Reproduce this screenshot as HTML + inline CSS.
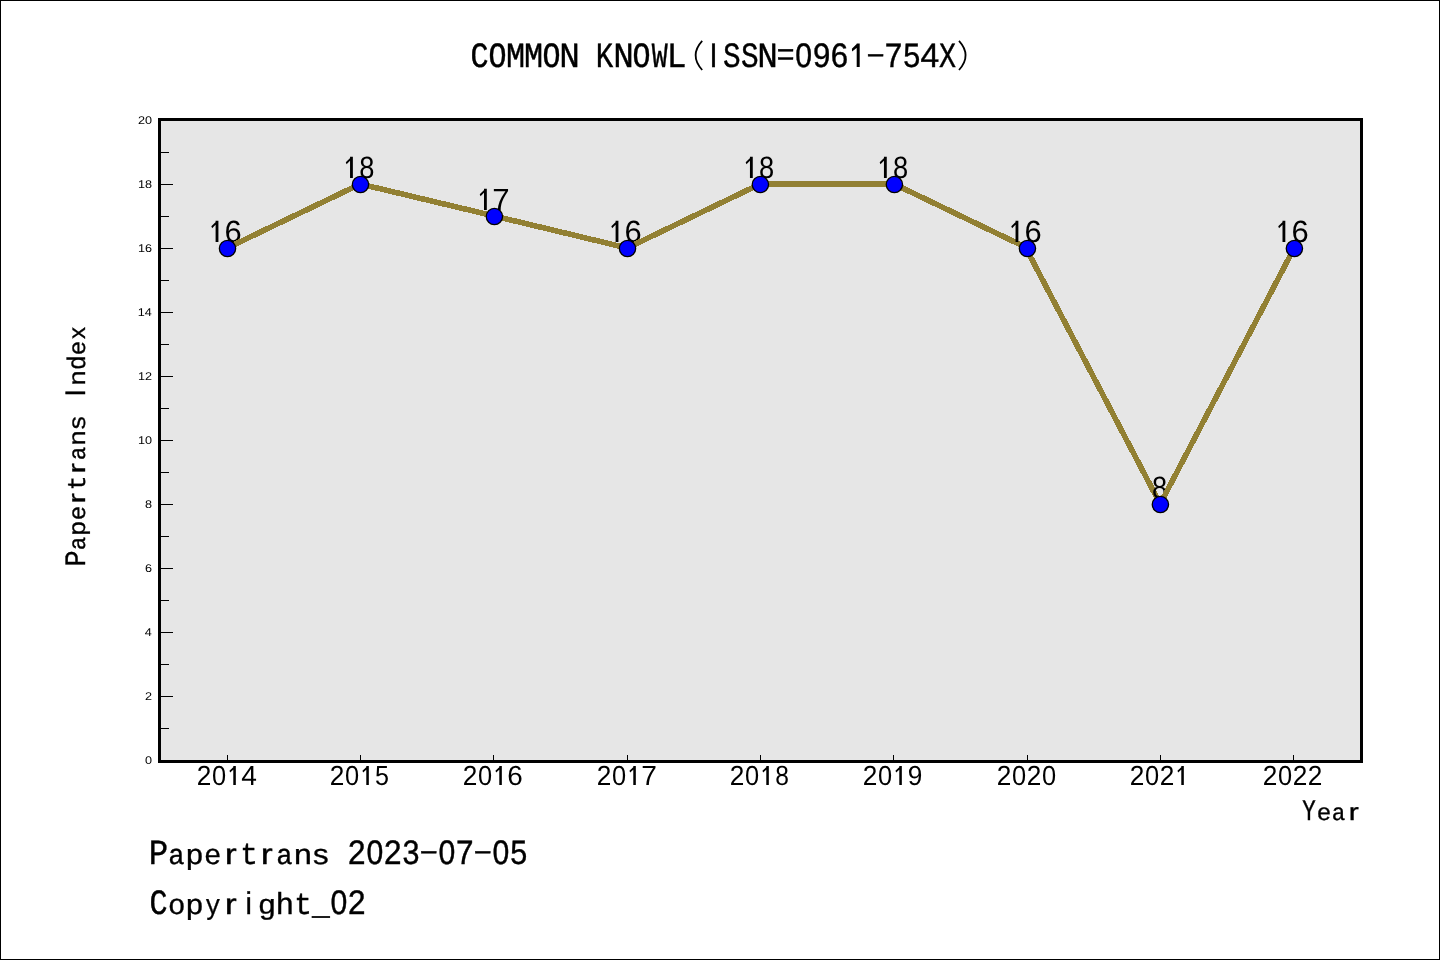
<!DOCTYPE html>
<html><head><meta charset="utf-8"><title>COMMON KNOWL</title>
<style>html,body{margin:0;padding:0;background:#fff;}body{width:1440px;height:960px;overflow:hidden;font-family:"Liberation Sans",sans-serif;}svg{display:block;will-change:transform;text-rendering:geometricPrecision;}</style>
</head><body>
<svg width="1440" height="960" viewBox="0 0 1440 960" font-family="'Liberation Sans', sans-serif" fill="#000">
<rect x="0.5" y="0.5" width="1439" height="959" fill="#fff" stroke="#000" stroke-width="1" shape-rendering="crispEdges"/>
<rect x="159.5" y="119.5" width="1202" height="642" fill="#e6e6e6" stroke="#000" stroke-width="3" shape-rendering="crispEdges"/>
<path d="M161 728.5H169M161 696.5H173M161 664.5H169M161 632.5H173M161 600.5H169M161 568.5H173M161 536.5H169M161 504.5H173M161 472.5H169M161 440.5H173M161 408.5H169M161 376.5H173M161 344.5H169M161 312.5H173M161 280.5H169M161 248.5H173M161 216.5H169M161 184.5H173M161 152.5H169M227.5 755V760M360.5 755V760M493.5 755V760M627.5 755V760M760.5 755V760M893.5 755V760M1027.5 755V760M1160.5 755V760M1293.5 755V760" stroke="#000" stroke-width="1" fill="none" shape-rendering="crispEdges"/>
<text transform="translate(145.45,764) scale(1.13,1)" x="-0.44" font-size="11.2">0</text>
<text transform="translate(145.73,700) scale(1.13,1)" x="-0.56" font-size="11.2">2</text>
<text transform="translate(145.12,636) scale(1.13,1)" x="-0.26" font-size="11.2">4</text>
<text transform="translate(145.66,572) scale(1.13,1)" x="-0.57" font-size="11.2">6</text>
<text transform="translate(145.56,508) scale(1.13,1)" x="-0.49" font-size="11.2">8</text>
<text transform="translate(138.88,444) scale(1.13,1)" x="-0.85" font-size="11.2">10</text>
<text transform="translate(139.02,380) scale(1.13,1)" x="-0.85" font-size="11.2">12</text>
<text transform="translate(138.76,316) scale(1.13,1)" x="-0.85" font-size="11.2">14</text>
<text transform="translate(138.94,252) scale(1.13,1)" x="-0.85" font-size="11.2">16</text>
<text transform="translate(138.94,188) scale(1.13,1)" x="-0.85" font-size="11.2">18</text>
<text transform="translate(138.55,124) scale(1.13,1)" x="-0.56" font-size="11.2">20</text>
<g aria-label="2014"><desc>2014</desc><text transform="translate(204,785) scale(0.95,1)" x="-7.68" font-size="27.62">2</text><text transform="translate(219,785) scale(0.92,1)" x="-7.68" font-size="27.62">0</text><path d="M233.29 766h2.54v19h-2.54zM234.54 766L233.49 769.39L230.16 772.6L229.45 770.82z"/><text transform="translate(249,785) scale(1.02,1)" x="-7.59" font-size="27.62">4</text></g>
<g aria-label="2015"><desc>2015</desc><text transform="translate(337,785) scale(0.95,1)" x="-7.68" font-size="27.62">2</text><text transform="translate(352,785) scale(0.92,1)" x="-7.68" font-size="27.62">0</text><path d="M366.29 766h2.54v19h-2.54zM367.54 766L366.49 769.39L363.16 772.6L362.45 770.82z"/><text transform="translate(382,785) scale(0.91,1)" x="-7.65" font-size="27.62">5</text></g>
<g aria-label="2016"><desc>2016</desc><text transform="translate(470,785) scale(0.95,1)" x="-7.68" font-size="27.62">2</text><text transform="translate(485,785) scale(0.92,1)" x="-7.68" font-size="27.62">0</text><path d="M499.29 766h2.54v19h-2.54zM500.54 766L499.49 769.39L496.16 772.6L495.45 770.82z"/><text transform="translate(515,785) scale(1.01,1)" x="-7.77" font-size="27.62">6</text></g>
<g aria-label="2017"><desc>2017</desc><text transform="translate(604,785) scale(0.95,1)" x="-7.68" font-size="27.62">2</text><text transform="translate(619,785) scale(0.92,1)" x="-7.68" font-size="27.62">0</text><path d="M633.29 766h2.54v19h-2.54zM634.54 766L633.49 769.39L630.16 772.6L629.45 770.82z"/><text transform="translate(649,785) scale(1.02,1)" x="-7.69" font-size="27.62">7</text></g>
<g aria-label="2018"><desc>2018</desc><text transform="translate(737,785) scale(0.95,1)" x="-7.68" font-size="27.62">2</text><text transform="translate(752,785) scale(0.92,1)" x="-7.68" font-size="27.62">0</text><path d="M766.29 766h2.54v19h-2.54zM767.54 766L766.49 769.39L763.16 772.6L762.45 770.82z"/><text transform="translate(782,785) scale(0.89,1)" x="-7.68" font-size="27.62">8</text></g>
<g aria-label="2019"><desc>2019</desc><text transform="translate(870,785) scale(0.95,1)" x="-7.68" font-size="27.62">2</text><text transform="translate(885,785) scale(0.92,1)" x="-7.68" font-size="27.62">0</text><path d="M899.29 766h2.54v19h-2.54zM900.54 766L899.49 769.39L896.16 772.6L895.45 770.82z"/><text transform="translate(915,785) scale(0.95,1)" x="-7.67" font-size="27.62">9</text></g>
<g aria-label="2020"><desc>2020</desc><text transform="translate(1004,785) scale(0.95,1)" x="-7.68" font-size="27.62">2</text><text transform="translate(1019,785) scale(0.92,1)" x="-7.68" font-size="27.62">0</text><text transform="translate(1034,785) scale(0.95,1)" x="-7.68" font-size="27.62">2</text><text transform="translate(1049,785) scale(0.92,1)" x="-7.68" font-size="27.62">0</text></g>
<g aria-label="2021"><desc>2021</desc><text transform="translate(1137,785) scale(0.95,1)" x="-7.68" font-size="27.62">2</text><text transform="translate(1152,785) scale(0.92,1)" x="-7.68" font-size="27.62">0</text><text transform="translate(1167,785) scale(0.95,1)" x="-7.68" font-size="27.62">2</text><path d="M1181.29 766h2.54v19h-2.54zM1182.54 766L1181.49 769.39L1178.16 772.6L1177.45 770.82z"/></g>
<g aria-label="2022"><desc>2022</desc><text transform="translate(1270,785) scale(0.95,1)" x="-7.68" font-size="27.62">2</text><text transform="translate(1285,785) scale(0.92,1)" x="-7.68" font-size="27.62">0</text><text transform="translate(1300,785) scale(0.95,1)" x="-7.68" font-size="27.62">2</text><text transform="translate(1315,785) scale(0.95,1)" x="-7.68" font-size="27.62">2</text></g>
<g aria-label="16"><desc>16</desc><path d="M215.6 220.8h2.82v21.1h-2.82zM216.99 220.8L215.8 224.56L212.13 228.13L211.34 226.15z"/><text transform="translate(233.2,241.9) scale(1.01,1)" x="-8.63" font-size="30.67">6</text></g>
<line x1="227.3" y1="248" x2="360.3" y2="184" stroke="#928033" stroke-width="5.6" stroke-linecap="butt" shape-rendering="crispEdges"/>
<g aria-label="18"><desc>18</desc><path d="M350.05 156.8h2.82v21.1h-2.82zM351.44 156.8L350.25 160.56L346.58 164.13L345.79 162.15z"/><text transform="translate(366.77,177.9) scale(0.89,1)" x="-8.53" font-size="30.67">8</text></g>
<line x1="360.3" y1="184" x2="494.2" y2="216" stroke="#928033" stroke-width="5.6" stroke-linecap="butt" shape-rendering="crispEdges"/>
<g aria-label="17"><desc>17</desc><path d="M484 188.8h2.82v21.1h-2.82zM485.39 188.8L484.2 192.56L480.53 196.13L479.74 194.15z"/><text transform="translate(501.05,209.9) scale(1.02,1)" x="-8.54" font-size="30.67">7</text></g>
<line x1="494.2" y1="216" x2="627.3" y2="248" stroke="#928033" stroke-width="5.6" stroke-linecap="butt" shape-rendering="crispEdges"/>
<g aria-label="16"><desc>16</desc><path d="M615.6 220.8h2.82v21.1h-2.82zM616.99 220.8L615.8 224.56L612.13 228.13L611.34 226.15z"/><text transform="translate(633.2,241.9) scale(1.01,1)" x="-8.63" font-size="30.67">6</text></g>
<line x1="627.3" y1="248" x2="760.2" y2="184" stroke="#928033" stroke-width="5.6" stroke-linecap="butt" shape-rendering="crispEdges"/>
<g aria-label="18"><desc>18</desc><path d="M749.95 156.8h2.82v21.1h-2.82zM751.34 156.8L750.15 160.56L746.48 164.13L745.69 162.15z"/><text transform="translate(766.67,177.9) scale(0.89,1)" x="-8.53" font-size="30.67">8</text></g>
<line x1="760.2" y1="184" x2="894.2" y2="184" stroke="#928033" stroke-width="5.6" stroke-linecap="butt" shape-rendering="crispEdges"/>
<g aria-label="18"><desc>18</desc><path d="M883.95 156.8h2.82v21.1h-2.82zM885.34 156.8L884.15 160.56L880.48 164.13L879.69 162.15z"/><text transform="translate(900.67,177.9) scale(0.89,1)" x="-8.53" font-size="30.67">8</text></g>
<line x1="894.2" y1="184" x2="1027.25" y2="248" stroke="#928033" stroke-width="5.6" stroke-linecap="butt" shape-rendering="crispEdges"/>
<g aria-label="16"><desc>16</desc><path d="M1015.55 220.8h2.82v21.1h-2.82zM1016.94 220.8L1015.75 224.56L1012.08 228.13L1011.29 226.15z"/><text transform="translate(1033.15,241.9) scale(1.01,1)" x="-8.63" font-size="30.67">6</text></g>
<line x1="1025.85" y1="248" x2="1160.2" y2="504" stroke="#928033" stroke-width="5.6" stroke-linecap="butt" shape-rendering="crispEdges"/>
<g aria-label="8"><desc>8</desc><text transform="translate(1159.6,497.9) scale(0.89,1)" x="-8.53" font-size="30.67">8</text></g>
<line x1="1160.2" y1="504" x2="1294.2" y2="248" stroke="#928033" stroke-width="5.6" stroke-linecap="butt" shape-rendering="crispEdges"/>
<g aria-label="16"><desc>16</desc><path d="M1282.5 220.8h2.82v21.1h-2.82zM1283.89 220.8L1282.7 224.56L1279.03 228.13L1278.24 226.15z"/><text transform="translate(1300.1,241.9) scale(1.01,1)" x="-8.63" font-size="30.67">6</text></g>
<circle cx="227.5" cy="248.45" r="8.15" fill="#0000ff" stroke="#000" stroke-width="1.3"/>
<circle cx="360.5" cy="184.45" r="8.15" fill="#0000ff" stroke="#000" stroke-width="1.3"/>
<circle cx="494.4" cy="216.45" r="8.15" fill="#0000ff" stroke="#000" stroke-width="1.3"/>
<circle cx="627.5" cy="248.45" r="8.15" fill="#0000ff" stroke="#000" stroke-width="1.3"/>
<circle cx="760.4" cy="184.45" r="8.15" fill="#0000ff" stroke="#000" stroke-width="1.3"/>
<circle cx="894.4" cy="184.45" r="8.15" fill="#0000ff" stroke="#000" stroke-width="1.3"/>
<circle cx="1027.45" cy="248.45" r="8.15" fill="#0000ff" stroke="#000" stroke-width="1.3"/>
<circle cx="1160.4" cy="504.45" r="8.15" fill="#0000ff" stroke="#000" stroke-width="1.3"/>
<circle cx="1294.4" cy="248.45" r="8.15" fill="#0000ff" stroke="#000" stroke-width="1.3"/>
<g stroke="#000" stroke-width="0.42" aria-label="COMMON KNOWL(ISSN=0961-754X)"><desc>COMMON KNOWL(ISSN=0961-754X)</desc><text transform="translate(479.6,67) scale(0.85,1)" x="-10.85" font-size="35.4" font-family="'Liberation Mono', monospace">C</text><text transform="translate(497.6,67) scale(0.85,1)" x="-10.61" font-size="35.4" font-family="'Liberation Mono', monospace">O</text><text transform="translate(515.6,67) scale(0.9,1)" x="-10.61" font-size="35.4" font-family="'Liberation Mono', monospace">M</text><text transform="translate(533.6,67) scale(0.9,1)" x="-10.61" font-size="35.4" font-family="'Liberation Mono', monospace">M</text><text transform="translate(551.6,67) scale(0.85,1)" x="-10.61" font-size="35.4" font-family="'Liberation Mono', monospace">O</text><text transform="translate(569.6,67) scale(0.97,1)" x="-10.61" font-size="35.4" font-family="'Liberation Mono', monospace">N</text><text transform="translate(605.6,67) scale(0.82,1)" x="-12" font-size="35.4" font-family="'Liberation Mono', monospace">K</text><text transform="translate(623.6,67) scale(0.97,1)" x="-10.61" font-size="35.4" font-family="'Liberation Mono', monospace">N</text><text transform="translate(641.6,67) scale(0.85,1)" x="-10.61" font-size="35.4" font-family="'Liberation Mono', monospace">O</text><text transform="translate(659.6,67) scale(0.75,1)" x="-10.61" font-size="35.4" font-family="'Liberation Mono', monospace">W</text><text transform="translate(677.6,67) scale(0.93,1)" x="-11.55" font-size="35.4" font-family="'Liberation Mono', monospace">L</text><path d="M702.2 40.9Q689 55.44 702.2 69.99" fill="none" stroke="#000" stroke-width="1.75"/><text transform="translate(713.6,67) scale(0.85,1)" x="-4.71" font-size="33.91">I</text><text transform="translate(731.6,67) scale(0.83,1)" x="-10.43" font-size="35.4" font-family="'Liberation Mono', monospace">S</text><text transform="translate(749.6,67) scale(0.83,1)" x="-10.43" font-size="35.4" font-family="'Liberation Mono', monospace">S</text><text transform="translate(767.6,67) scale(0.97,1)" x="-10.61" font-size="35.4" font-family="'Liberation Mono', monospace">N</text><rect x="778.22" y="49.22" width="14.76" height="2.09"/><rect x="778.22" y="57.5" width="14.76" height="2.09"/><text transform="translate(803.6,67) scale(0.89,1)" x="-9.43" font-size="33.91">0</text><text transform="translate(821.6,67) scale(0.92,1)" x="-9.42" font-size="33.91">9</text><text transform="translate(839.6,67) scale(0.92,1)" x="-9.54" font-size="33.91">6</text><path d="M856.7 43.47h3v23.53h-3zM857.2 43.47L856.9 47.87L852.1 51.57L851.9 48.67z" stroke="none"/><rect x="868.13" y="54.31" width="14.94" height="1.91"/><text transform="translate(893.6,67) scale(0.93,1)" x="-9.45" font-size="33.91">7</text><text transform="translate(911.6,67) scale(0.9,1)" x="-9.4" font-size="33.91">5</text><text transform="translate(929.6,67) scale(0.99,1)" x="-9.32" font-size="33.91">4</text><text transform="translate(947.6,67) scale(0.8,1)" x="-10.62" font-size="35.4" font-family="'Liberation Mono', monospace">X</text><path d="M959 40.9Q972.2 55.44 959 69.99" fill="none" stroke="#000" stroke-width="1.75"/></g>
<g stroke="#000" stroke-width="0.42" aria-label="Year"><desc>Year</desc><text transform="translate(1309,820.3) scale(0.76,1)" x="-8.84" font-size="29.5" font-family="'Liberation Mono', monospace">Y</text><text transform="translate(1324,820.3) scale(0.82,0.8)" x="-8.84" font-size="29.5" font-family="'Liberation Mono', monospace">e</text><text transform="translate(1339,820.3) scale(0.77,0.8)" x="-9.28" font-size="29.5" font-family="'Liberation Mono', monospace">a</text><text transform="translate(1354.6,820.3) scale(1.06,0.85)" x="-5.41" font-size="28.26">r</text></g>
<g transform="translate(84.8,565.5) rotate(-90)" stroke="#000" stroke-width="0.42" aria-label="Papertrans Index"><desc>Papertrans Index</desc><text transform="translate(7.5,0) scale(0.91,1)" x="-9.23" font-size="29.5" font-family="'Liberation Mono', monospace">P</text><text transform="translate(22.5,0) scale(0.77,0.8)" x="-9.28" font-size="29.5" font-family="'Liberation Mono', monospace">a</text><text transform="translate(37.5,0) scale(0.87,0.8)" x="-9.14" font-size="29.5" font-family="'Liberation Mono', monospace">p</text><text transform="translate(52.5,0) scale(0.82,0.8)" x="-8.84" font-size="29.5" font-family="'Liberation Mono', monospace">e</text><text transform="translate(68.1,0) scale(1.06,0.85)" x="-5.41" font-size="28.26">r</text><text transform="translate(82.5,0) scale(0.83,0.86)" x="-8.69" font-size="29.5" font-family="'Liberation Mono', monospace">t</text><text transform="translate(98.1,0) scale(1.06,0.85)" x="-5.41" font-size="28.26">r</text><text transform="translate(112.5,0) scale(0.77,0.8)" x="-9.28" font-size="29.5" font-family="'Liberation Mono', monospace">a</text><text transform="translate(127.5,0) scale(0.91,0.8)" x="-8.84" font-size="29.5" font-family="'Liberation Mono', monospace">n</text><text transform="translate(142.5,0) scale(0.89,0.8)" x="-8.84" font-size="29.5" font-family="'Liberation Mono', monospace">s</text><text transform="translate(172.5,0) scale(0.85,1)" x="-3.93" font-size="28.26">I</text><text transform="translate(187.5,0) scale(0.91,0.8)" x="-8.84" font-size="29.5" font-family="'Liberation Mono', monospace">n</text><text transform="translate(202.5,0) scale(0.83,0.86)" x="-8.55" font-size="29.5" font-family="'Liberation Mono', monospace">d</text><text transform="translate(217.5,0) scale(0.82,0.8)" x="-8.84" font-size="29.5" font-family="'Liberation Mono', monospace">e</text><text transform="translate(232.5,0) scale(0.76,0.8)" x="-8.84" font-size="29.5" font-family="'Liberation Mono', monospace">x</text></g>
<g stroke="#000" stroke-width="0.42" aria-label="Papertrans 2023-07-05"><desc>Papertrans 2023-07-05</desc><text transform="translate(158.8,864) scale(0.91,1)" x="-11.07" font-size="35.4" font-family="'Liberation Mono', monospace">P</text><text transform="translate(176.8,864) scale(0.77,0.8)" x="-11.13" font-size="35.4" font-family="'Liberation Mono', monospace">a</text><text transform="translate(194.8,864) scale(0.87,0.8)" x="-10.97" font-size="35.4" font-family="'Liberation Mono', monospace">p</text><text transform="translate(212.8,864) scale(0.82,0.8)" x="-10.6" font-size="35.4" font-family="'Liberation Mono', monospace">e</text><text transform="translate(231.52,864) scale(1.06,0.85)" x="-6.49" font-size="33.91">r</text><text transform="translate(248.8,864) scale(0.83,0.86)" x="-10.43" font-size="35.4" font-family="'Liberation Mono', monospace">t</text><text transform="translate(267.52,864) scale(1.06,0.85)" x="-6.49" font-size="33.91">r</text><text transform="translate(284.8,864) scale(0.77,0.8)" x="-11.13" font-size="35.4" font-family="'Liberation Mono', monospace">a</text><text transform="translate(302.8,864) scale(0.91,0.8)" x="-10.61" font-size="35.4" font-family="'Liberation Mono', monospace">n</text><text transform="translate(320.8,864) scale(0.89,0.8)" x="-10.6" font-size="35.4" font-family="'Liberation Mono', monospace">s</text><text transform="translate(356.8,864) scale(0.93,1)" x="-9.43" font-size="33.91">2</text><text transform="translate(374.8,864) scale(0.89,1)" x="-9.43" font-size="33.91">0</text><text transform="translate(392.8,864) scale(0.93,1)" x="-9.43" font-size="33.91">2</text><text transform="translate(410.8,864) scale(0.9,1)" x="-9.33" font-size="33.91">3</text><rect x="421.33" y="851.31" width="14.94" height="1.91"/><text transform="translate(446.8,864) scale(0.89,1)" x="-9.43" font-size="33.91">0</text><text transform="translate(464.8,864) scale(0.93,1)" x="-9.45" font-size="33.91">7</text><rect x="475.33" y="851.31" width="14.94" height="1.91"/><text transform="translate(500.8,864) scale(0.89,1)" x="-9.43" font-size="33.91">0</text><text transform="translate(518.8,864) scale(0.9,1)" x="-9.4" font-size="33.91">5</text></g>
<g stroke="#000" stroke-width="0.42" aria-label="Copyright_02"><desc>Copyright_02</desc><text transform="translate(158.8,914) scale(0.85,1)" x="-10.85" font-size="35.4" font-family="'Liberation Mono', monospace">C</text><text transform="translate(176.8,914) scale(0.82,0.8)" x="-10.6" font-size="35.4" font-family="'Liberation Mono', monospace">o</text><text transform="translate(194.8,914) scale(0.87,0.8)" x="-10.97" font-size="35.4" font-family="'Liberation Mono', monospace">p</text><text transform="translate(212.8,914) scale(0.72,0.8)" x="-10.6" font-size="35.4" font-family="'Liberation Mono', monospace">y</text><text transform="translate(231.52,914) scale(1.06,0.85)" x="-6.49" font-size="33.91">r</text><text transform="translate(248.8,914) scale(0.85,0.93)" x="-3.76" font-size="33.91">i</text><text transform="translate(266.8,914) scale(0.87,0.8)" x="-10.34" font-size="35.4" font-family="'Liberation Mono', monospace">g</text><text transform="translate(284.8,914) scale(0.88,0.86)" x="-10.66" font-size="35.4" font-family="'Liberation Mono', monospace">h</text><text transform="translate(302.8,914) scale(0.83,0.86)" x="-10.43" font-size="35.4" font-family="'Liberation Mono', monospace">t</text><text transform="translate(320.8,914) scale(0.84,1)" x="-10.61" font-size="35.4" font-family="'Liberation Mono', monospace">_</text><text transform="translate(338.8,914) scale(0.89,1)" x="-9.43" font-size="33.91">0</text><text transform="translate(356.8,914) scale(0.93,1)" x="-9.43" font-size="33.91">2</text></g>
</svg>
</body></html>
